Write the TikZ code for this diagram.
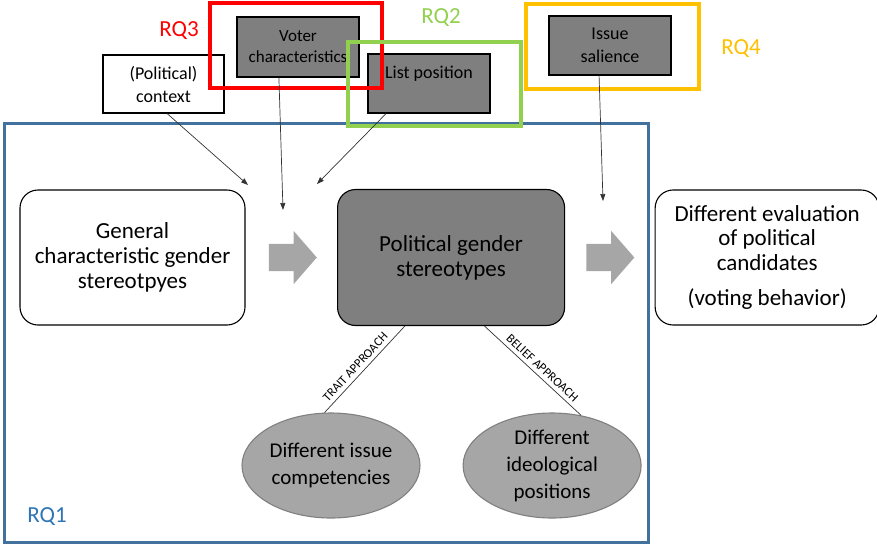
\documentclass[tikz,border=0pt]{standalone}
\usepackage{fontspec}
\setmainfont{Carlito}
\usepackage{tikz}
\usetikzlibrary{positioning,shapes.geometric,shapes.arrows,arrows.meta}
\definecolor{rqblue}{RGB}{65,113,156}
\definecolor{rqlabel}{RGB}{46,117,182}
\definecolor{rqred}{RGB}{255,0,0}
\definecolor{rqgreen}{RGB}{146,208,80}
\definecolor{rqorange}{RGB}{255,192,0}
\definecolor{boxgray}{RGB}{127,127,127}
\definecolor{softgray}{RGB}{166,166,166}

\begin{document}
\begin{tikzpicture}[x=1pt, y=-1pt, >={Triangle[length=7pt,width=5pt]},
  big/.style = {draw, rounded corners=18pt, line width=1.1pt, align=center, inner sep=0pt, font=\fontsize{23}{25}\selectfont},
  small/.style = {draw, rectangle, line width=1.1pt, align=center, inner sep=0pt, minimum width=122pt, minimum height=59pt, font=\fontsize{18}{23}\selectfont},
  dark/.style = {fill=boxgray},
  oval/.style = {draw=black!50, ellipse, fill=softgray, line width=1.1pt, align=center, inner sep=0pt, minimum width=178pt, minimum height=105pt, font=\fontsize{21}{27}\selectfont},
  bigarrow/.style = {single arrow, fill=softgray, inner sep=0pt, text height=13.5pt, text depth=13.5pt, minimum height=48pt, single arrow head extend=13pt, single arrow tip angle=98},
  rq/.style = {font=\fontsize{23}{25}\selectfont},
  link/.style = {->, draw=black!80, line width=0.7pt},
  approach/.style = {draw=black!80, line width=0.7pt},
  tag/.style = {pos=0.54, sloped, above, inner sep=4pt, font=\fontsize{12.5}{14}\selectfont}]
    \useasboundingbox (0,0) rectangle (877,544);
    % RQ1 frame
    \draw[rqblue, line width=3pt] (4.5,123.5) rectangle (648,542);
    \node[rq, text=rqlabel] (rq1) at (47,517) {RQ1};

    % main row
    \node[big, minimum width=225pt, minimum height=135pt] (gen) at (132.5,257.5) {General\\characteristic gender\\stereotpyes};
    \node[bigarrow] (arr1) [right=23pt of gen] {};
    \node[big, dark, minimum width=227pt, minimum height=136pt] (pol) [right=20pt of arr1] {Political gender\\stereotypes};
    \node[bigarrow] (arr2) [right=21pt of pol] {};
    \node[big, minimum width=224pt, minimum height=135pt, font=\fontsize{23}{24.5}\selectfont] (eval) [right=20pt of arr2] {Different evaluation\\of political\\candidates\\[11pt](voting behavior)};

    % moderators
    \node[small, minimum width=121pt, minimum height=58pt] (ctx) at (163.5,84) {(Political)\\context};
    \node[small, dark, minimum height=60pt, font=\fontsize{17}{21}\selectfont] (voter) at (298,47) {Voter\\characteristics};
    \node[small, dark] (list) at (429,83.5) {List position\\\mbox{}};
    \node[small, dark] (issue) at (610,45.5) {Issue\\salience};

    % approaches
    \node[oval] (ell1) at (331,465.5) {Different issue\\competencies};
    \node[oval] (ell2) [right=42pt of ell1] {Different\\ideological\\positions};
    \draw[approach] (pol.236) -- node[tag] {TRAIT APPROACH} (ell1.97);
    \draw[approach] (pol.296) -- node[tag] {BELIEF APPROACH} (ell2.60);

    % research question frames
    \draw[rqred, line width=4pt] (210,3) rectangle (382,88);
    \draw[rqgreen, line width=3.5pt] (348,42) rectangle (521,126);
    \draw[rqorange, line width=4pt] (526,4) rectangle (699,89);
    \node[rq, text=rqred] (rq3) at (179,31) {RQ3};
    \node[rq, text=rqgreen] (rq2) at (441,18) {RQ2};
    \node[rq, text=rqorange] (rq4) at (741,49) {RQ4};

    % influences
    \coordinate (t1) at (248,185);
    \coordinate (t2) at (283,210);
    \coordinate (t3) at (317,184);
    \coordinate (t4) at (603,201);
    \draw[link] (ctx.-83) -- (t1);
    \draw[link] (voter.238) -- (t2);
    \draw[link] (list.215) -- (t3);
    \draw[link] (issue.250) -- (t4);
\end{tikzpicture}
\end{document}
